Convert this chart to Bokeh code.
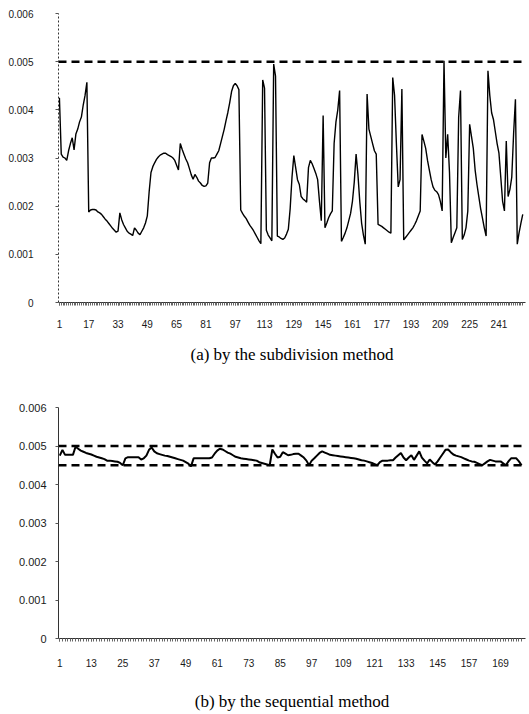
from bokeh.plotting import figure
from bokeh.layouts import column
from bokeh.models import FixedTicker, Span, CustomJSTickFormatter, Range1d
from bokeh.embed import file_html
from bokeh.resources import INLINE

# values in units of 0.001
sub_vals = [
    4.25, 3.08, 3.02, 3.00, 2.95, 3.15, 3.30, 3.42, 3.17, 3.50, 3.60, 3.75, 3.85, 4.10, 4.30, 4.57, 1.88,
    1.92, 1.93, 1.93, 1.92, 1.88, 1.86, 1.83, 1.78, 1.73, 1.69, 1.64, 1.59, 1.54, 1.50, 1.46, 1.48, 1.86,
    1.72, 1.62, 1.55, 1.48, 1.44, 1.42, 1.39, 1.55, 1.50, 1.44, 1.41, 1.48, 1.55, 1.65, 1.80, 2.30,
    2.70, 2.82, 2.90, 2.97, 3.02, 3.06, 3.08, 3.10, 3.10, 3.07, 3.05, 3.03, 3.00, 2.95, 2.85, 2.75, 3.30,
    3.18, 3.08, 2.98, 2.90, 2.78, 2.65, 2.56, 2.66, 2.60, 2.52, 2.48, 2.43, 2.41, 2.42, 2.48, 2.90, 3.00,
    3.00, 3.01, 3.08, 3.15, 3.30, 3.45, 3.60, 3.78, 3.95, 4.15, 4.38, 4.50, 4.55, 4.50, 4.42,
    1.92, 1.85, 1.79, 1.74, 1.67, 1.60, 1.55, 1.49, 1.42, 1.35, 1.28, 1.22, 4.62, 4.45, 1.50, 1.40, 1.34, 1.28,
    4.95, 4.70, 1.38,
    1.36, 1.33, 1.31, 1.34, 1.42, 1.52, 1.95,
    2.60, 3.05, 2.80, 2.55, 2.45, 2.20, 2.15, 2.12, 2.08, 2.80, 2.95, 2.88, 2.78, 2.68, 2.55, 2.10, 1.70,
    3.88, 1.55, 1.65, 1.76, 1.84, 1.90, 3.30, 3.75, 4.00, 4.40, 1.27, 1.35, 1.44, 1.55, 1.70, 1.85,
    2.10, 2.50, 3.08, 2.66, 2.10, 1.65, 1.40, 1.21, 4.33, 3.60, 3.45, 3.30, 3.15, 3.08,
    1.62, 1.60, 1.58, 1.55, 1.52, 1.49, 1.46, 1.44, 4.67, 4.30, 3.30, 2.40, 2.55, 4.43, 1.30, 1.35,
    1.40, 1.45, 1.50, 1.55, 1.62, 1.70, 1.80, 1.90, 3.49, 3.35, 3.20, 2.95, 2.75, 2.55, 2.40, 2.33,
    2.30, 2.24, 2.10, 1.90, 5.02, 3.00, 3.49, 2.70, 1.24, 1.35, 1.45, 1.55, 3.84, 4.40, 1.31, 1.40,
    1.55, 1.90, 3.70, 3.45, 3.20, 2.75, 2.45, 2.20, 1.95, 1.75, 1.55, 1.38, 4.81, 4.30, 3.94, 3.80,
    3.55, 3.30, 3.10, 2.60, 2.10, 1.90, 3.35, 2.20, 2.35, 2.60, 3.50, 4.22, 1.21, 1.45, 1.65, 1.83,
]

seq_vals = [
    4.75, 4.90, 4.77, 4.77, 4.77, 4.77, 4.98, 4.93, 4.88, 4.85,
    4.82, 4.80, 4.78, 4.75, 4.72, 4.70, 4.68, 4.66, 4.62, 4.62,
    4.61, 4.60, 4.59, 4.56, 4.50, 4.68, 4.71, 4.71, 4.71, 4.71,
    4.71, 4.65, 4.68, 4.75, 4.90, 4.96, 4.86, 4.81, 4.79, 4.77,
    4.75, 4.74, 4.72, 4.70, 4.68, 4.66, 4.64, 4.62, 4.58, 4.54,
    4.47, 4.68, 4.68, 4.68, 4.68, 4.68, 4.68, 4.68, 4.70, 4.80,
    4.88, 4.93, 4.91, 4.87, 4.83, 4.80, 4.76, 4.72, 4.70, 4.68,
    4.67, 4.66, 4.65, 4.64, 4.63, 4.62, 4.58, 4.56, 4.54, 4.52,
    4.50, 4.91, 4.80, 4.70, 4.72, 4.84, 4.80, 4.76, 4.77, 4.79,
    4.80, 4.80, 4.75, 4.70, 4.62, 4.50, 4.62, 4.68, 4.75, 4.82,
    4.86, 4.83, 4.80, 4.77, 4.76, 4.75, 4.74, 4.73, 4.72, 4.71,
    4.70, 4.69, 4.68, 4.67, 4.65, 4.63, 4.62, 4.60, 4.58, 4.56,
    4.53, 4.50, 4.58, 4.62, 4.62, 4.62, 4.63, 4.63, 4.70, 4.76,
    4.82, 4.70, 4.63, 4.70, 4.76, 4.64, 4.75, 4.86, 4.70, 4.62,
    4.55, 4.65, 4.58, 4.52, 4.60, 4.70, 4.80, 4.90, 4.91, 4.84,
    4.78, 4.75, 4.73, 4.71, 4.68, 4.65, 4.62, 4.60, 4.59, 4.56,
    4.53, 4.50, 4.55, 4.60, 4.64, 4.62, 4.60, 4.60, 4.60, 4.55,
    4.50, 4.60, 4.68, 4.68, 4.68, 4.60, 4.50,
]

sub_limits = [0.005]
seq_limits = [0.005, 0.0045]
y_ticks = [0, 0.001, 0.002, 0.003, 0.004, 0.005, 0.006]
sub_labels = list(range(1, 242, 16))
seq_labels = list(range(1, 170, 12))
sub_caption = "(a) by the subdivision method"
seq_caption = "(b) by the sequential method"

TEXT = "#1a1a1a"


def make_fig(vals, n_slots, label_ticks, limits, caption, height, top_border,
             label_standoff, cap_standoff, yaxis_dash, line_w, ylab_standoff, ylab_size):
    xs = list(range(1, len(vals) + 1))
    ys = [v / 1000 for v in vals]
    p = figure(width=527, height=height, output_backend="svg", toolbar_location=None,
               x_range=Range1d(0.5, n_slots + 0.5), y_range=Range1d(0, 0.006),
               min_border_left=58, min_border_right=2, min_border_top=top_border,
               min_border_bottom=0)
    p.xgrid.visible = False
    p.ygrid.visible = False
    p.outline_line_color = None
    p.background_fill_color = "white"
    p.border_fill_color = "white"

    for lim in limits:
        p.add_layout(Span(location=lim, dimension="width", line_color="black",
                          line_width=2.5, line_dash="8 5"))
    p.line(xs, ys, line_color="black", line_width=line_w)

    ya = p.yaxis[0]
    ya.ticker = FixedTicker(ticks=y_ticks, minor_ticks=[])
    ya.formatter = CustomJSTickFormatter(code="return tick == 0 ? '0' : tick.toFixed(3);")
    ya.major_tick_out = 3
    ya.major_tick_in = 0
    ya.major_tick_line_color = "#555555"
    ya.axis_line_color = "#333333"
    ya.axis_line_dash = yaxis_dash
    ya.major_label_text_font = "Liberation Sans"
    ya.major_label_text_font_size = ylab_size
    ya.major_label_text_color = TEXT
    ya.major_label_standoff = ylab_standoff

    xa = p.xaxis[0]
    xa.ticker = FixedTicker(ticks=label_ticks, minor_ticks=xs)
    xa.major_tick_out = 3
    xa.major_tick_in = 0
    xa.minor_tick_out = 3
    xa.minor_tick_in = 0
    xa.major_tick_line_color = "#666666"
    xa.minor_tick_line_color = "#666666"
    xa.axis_line_color = "#333333"
    xa.major_label_text_font = "Liberation Sans"
    xa.major_label_text_font_size = "10px"
    xa.major_label_text_color = TEXT
    xa.major_label_standoff = label_standoff
    xa.axis_label = caption
    xa.axis_label_text_font = "Liberation Serif"
    xa.axis_label_text_font_style = "normal"
    xa.axis_label_text_font_size = "17px"
    xa.axis_label_text_color = "black"
    xa.axis_label_standoff = cap_standoff
    return p


p1 = make_fig(sub_vals, 255, sub_labels, sub_limits, sub_caption, 366, 13,
              14, 14, "2 2", 1.4, 22, "10px")
p2 = make_fig(seq_vals, 178, seq_labels, seq_limits, seq_caption, 347, 41,
              17, 22, "solid", 2.0, 9, "11px")

layout = column(p1, p2, spacing=0)
open("out.html", "w").write(file_html(layout, INLINE))
